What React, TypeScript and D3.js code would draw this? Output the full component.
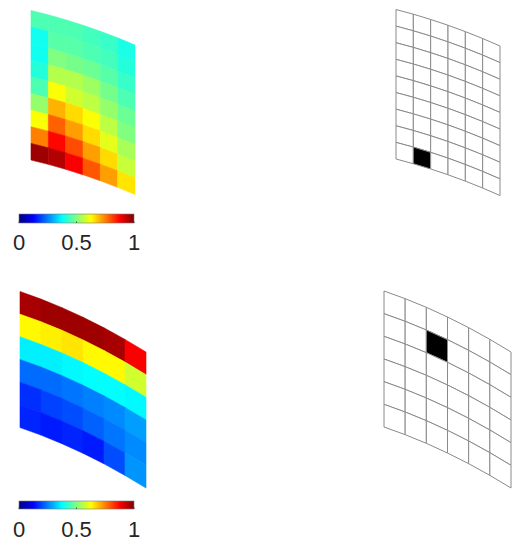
import React from 'react';
import * as d3 from 'd3';

// ---- data ----
// top field: 9 rows (top -> bottom) x 6 columns (left -> right)
const topValues: number[][] = [
  [0.45, 0.45, 0.45, 0.44, 0.43, 0.40],
  [0.39, 0.46, 0.46, 0.45, 0.44, 0.41],
  [0.39, 0.50, 0.49, 0.48, 0.46, 0.43],
  [0.41, 0.55, 0.55, 0.53, 0.49, 0.45],
  [0.45, 0.62, 0.58, 0.56, 0.52, 0.48],
  [0.52, 0.70, 0.66, 0.62, 0.56, 0.50],
  [0.62, 0.78, 0.72, 0.66, 0.60, 0.54],
  [0.75, 0.87, 0.80, 0.72, 0.66, 0.57],
  [0.97, 0.95, 0.88, 0.79, 0.72, 0.65],
];
// bottom field: 6 rows x 6 columns
const bottomValues: number[][] = [
  [0.96, 0.97, 0.97, 0.97, 0.96, 0.88],
  [0.63, 0.64, 0.65, 0.63, 0.63, 0.58],
  [0.36, 0.36, 0.37, 0.375, 0.375, 0.37],
  [0.23, 0.23, 0.24, 0.25, 0.26, 0.28],
  [0.17, 0.19, 0.20, 0.22, 0.24, 0.26],
  [0.16, 0.15, 0.16, 0.15, 0.20, 0.27],
];
const topHighlight = { row: 8, col: 1 };
const bottomHighlight = { row: 1, col: 2 };
const colorbarTicks = [0, 0.5, 1];
const colorbarTickLabels = ['0', '0.5', '1'];

// ---- helpers ----
function jet(t: number): string {
  const c = (v: number) => Math.max(0, Math.min(1, v));
  const r = c(1.5 - Math.abs(4 * t - 3));
  const g = c(1.5 - Math.abs(4 * t - 2));
  const b = c(1.5 - Math.abs(4 * t - 1));
  return d3.rgb(r * 255, g * 255, b * 255).formatHex();
}

type Panel = {
  x0: number; x1: number; yTopL: number; yTopR: number;
  height: number; bulge: number; rows: number; cols: number;
};

function corners(p: Panel) {
  const xs = d3.scaleLinear().domain([0, p.cols]).range([p.x0, p.x1]);
  const ys = d3.scaleLinear().domain([0, p.rows]).range([0, p.height]);
  const top = d3.scaleLinear().domain([0, p.cols]).range([p.yTopL, p.yTopR]);
  return (c: number, r: number): [number, number] => {
    const t = c / p.cols;
    return [xs(c), top(c) - p.bulge * 4 * t * (1 - t) + ys(r)];
  };
}

function quad(f: (c: number, r: number) => [number, number], c: number, r: number) {
  const pts = [f(c, r), f(c + 1, r), f(c + 1, r + 1), f(c, r + 1)];
  return 'M' + pts.map((p) => p[0].toFixed(2) + ',' + p[1].toFixed(2)).join('L') + 'Z';
}

function Heat({ p, values }: { p: Panel; values: number[][] }) {
  const f = corners(p);
  return (
    <g>
      {values.map((row, r) =>
        row.map((v, c) => (
          <path key={r + '-' + c} d={quad(f, c, r)} fill={jet(v)} stroke={jet(v)} strokeWidth={0.6} />
        ))
      )}
    </g>
  );
}

function Wire({ p, hl }: { p: Panel; hl: { row: number; col: number } }) {
  const f = corners(p);
  const cells: JSX.Element[] = [];
  for (let r = 0; r < p.rows; r++)
    for (let c = 0; c < p.cols; c++) {
      const isHl = r === hl.row && c === hl.col;
      cells.push(
        <path key={r + '-' + c} d={quad(f, c, r)} fill={isHl ? '#000' : '#fff'} stroke="#8a8a8a" strokeWidth={1} />
      );
    }
  return <g>{cells}</g>;
}

function Colorbar({ x0, x1, y, h, labelY, id }: { x0: number; x1: number; y: number; h: number; labelY: number; id: string }) {
  const xs = d3.scaleLinear().domain([0, 1]).range([x0, x1]);
  const stops = d3.range(0, 65).map((i) => i / 64);
  return (
    <g>
      <defs>
        <linearGradient id={id} x1="0" x2="1" y1="0" y2="0">
          {stops.map((s) => (
            <stop key={s} offset={s} stopColor={jet(s)} />
          ))}
        </linearGradient>
      </defs>
      <rect x={xs(0)} y={y} width={xs(1) - xs(0)} height={h} fill={`url(#${id})`} stroke="#7a7a7a" strokeWidth={0.6} />
      {colorbarTicks.map((t, i) => (
        <g key={t}>
          <line x1={xs(t)} x2={xs(t)} y1={y + h} y2={y + h - 1.5} stroke="#333" strokeWidth={0.8} />
          <text
            x={xs(t)}
            y={labelY}
            textAnchor="middle"
            fontFamily="'Liberation Sans', Arial, Helvetica, sans-serif"
            fontSize={22}
            fill="#262626"
          >
            {colorbarTickLabels[i]}
          </text>
        </g>
      ))}
    </g>
  );
}

const topHeat: Panel = { x0: 31, x1: 135, yTopL: 10.5, yTopR: 45, height: 149.5, bulge: 2.5, rows: 9, cols: 6 };
const topWire: Panel = { x0: 396, x1: 500, yTopL: 9.5, yTopR: 46, height: 149.5, bulge: 2.5, rows: 9, cols: 6 };
const botHeat: Panel = { x0: 20, x1: 146, yTopL: 291.5, yTopR: 352, height: 136, bulge: 4.5, rows: 6, cols: 6 };
const botWire: Panel = { x0: 384, x1: 511, yTopL: 291, yTopR: 352, height: 136, bulge: 4.5, rows: 6, cols: 6 };

export default function App() {
  return (
    <svg width={528} height={550} style={{ position: 'absolute', left: 0, top: 0, background: '#fff' }}>
      <rect x={0} y={0} width={528} height={550} fill="#fff" />
      <Heat p={topHeat} values={topValues} />
      <Wire p={topWire} hl={topHighlight} />
      <Heat p={botHeat} values={bottomValues} />
      <Wire p={botWire} hl={bottomHighlight} />
      <Colorbar x0={19} x1={134} y={214} h={9} labelY={250} id="cb1" />
      <Colorbar x0={19} x1={134} y={501} h={8} labelY={537} id="cb2" />
    </svg>
  );
}
